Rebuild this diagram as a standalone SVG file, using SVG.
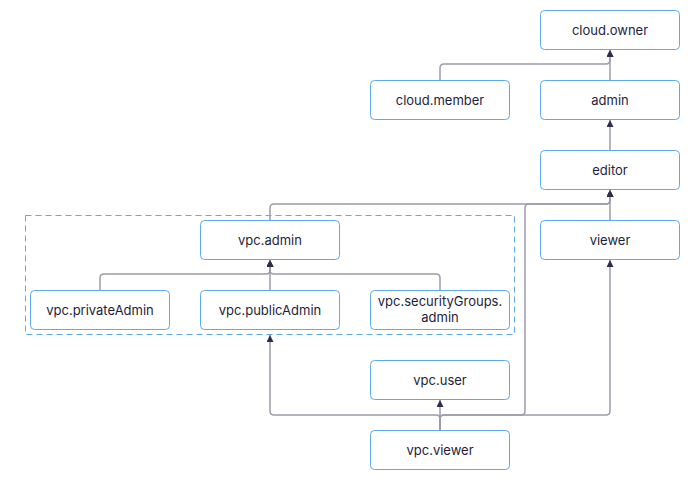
<svg xmlns="http://www.w3.org/2000/svg" width="700" height="482" viewBox="0 0 700 482">
<style>
.node rect{fill:#ffffff;stroke:#5fa9ee;stroke-width:1;}
.node text{font-family:Inter,"Noto Sans","Liberation Sans",sans-serif;font-size:13px;fill:#1e1e3c;text-anchor:middle;}
.edge{fill:none;stroke:#9e9bab;stroke-width:1.5;marker-end:url(#arr);}
.group{fill:none;stroke:#5fa9ee;stroke-width:1;stroke-dasharray:6 4;}
</style>
<defs>
<marker id="arr" markerUnits="userSpaceOnUse" markerWidth="8" markerHeight="8" refX="7" refY="3.5" orient="auto">
<path d="M0,0 L7,3.5 L0,7 z" fill="#2e2d4d"/>
</marker>
</defs>
<rect width="700" height="482" fill="#ffffff"/>
<rect id="vpc-group" class="group" x="25.5" y="215.5" width="489" height="119"/>
<g id="connectors">
<path class="edge" d="M440,80 V68 Q440,64 444,64 H606 Q610,64 610,60 V50"/>
<path class="edge" d="M610,80 V50"/>
<path class="edge" d="M610,150 V120"/>
<path class="edge" d="M610,220 V190"/>
<path class="edge" d="M270,220 V208 Q270,204 274,204 H606 Q610,204 610,200 V190"/>
<path class="edge" d="M100,290 V278 Q100,274 104,274 H266 Q270,274 270,270 V260"/>
<path class="edge" d="M270,290 V260"/>
<path class="edge" d="M440,290 V278 Q440,274 436,274 H274 Q270,274 270,270 V260"/>
<path class="edge" d="M440,430 V400"/>
<path class="edge" d="M440,430 V419 Q440,415 436,415 H274 Q270,415 270,411 V335"/>
<path class="edge" d="M440,430 V419 Q440,415 444,415 H521 Q525,415 525,411 V208 Q525,204 529,204 H606 Q610,204 610,200 V190"/>
<path class="edge" d="M440,430 V419 Q440,415 444,415 H606 Q610,415 610,411 V260"/>
</g>
<g id="cloud-owner" class="node"><rect x="540.5" y="10.5" width="139" height="39" rx="4"/><text x="610" y="34.5">cloud.owner</text></g>
<g id="cloud-member" class="node"><rect x="370.5" y="80.5" width="139" height="39" rx="4"/><text x="440" y="104.5">cloud.member</text></g>
<g id="admin" class="node"><rect x="540.5" y="80.5" width="139" height="39" rx="4"/><text x="610" y="104.5">admin</text></g>
<g id="editor" class="node"><rect x="540.5" y="150.5" width="139" height="39" rx="4"/><text x="610" y="174.5">editor</text></g>
<g id="viewer" class="node"><rect x="540.5" y="220.5" width="139" height="39" rx="4"/><text x="610" y="244.5">viewer</text></g>
<g id="vpc-admin" class="node"><rect x="200.5" y="220.5" width="139" height="39" rx="4"/><text x="270" y="244.5">vpc.admin</text></g>
<g id="vpc-privateAdmin" class="node"><rect x="30.5" y="290.5" width="139" height="39" rx="4"/><text x="100" y="314.5">vpc.privateAdmin</text></g>
<g id="vpc-publicAdmin" class="node"><rect x="200.5" y="290.5" width="139" height="39" rx="4"/><text x="270" y="314.5">vpc.publicAdmin</text></g>
<g id="vpc-securityGroups-admin" class="node"><rect x="370.5" y="290.5" width="139" height="39" rx="4"/><text x="440" y="306">vpc.securityGroups.</text><text x="440" y="322">admin</text></g>
<g id="vpc-user" class="node"><rect x="370.5" y="360.5" width="139" height="39" rx="4"/><text x="440" y="384.5">vpc.user</text></g>
<g id="vpc-viewer" class="node"><rect x="370.5" y="430.5" width="139" height="39" rx="4"/><text x="440" y="454.5">vpc.viewer</text></g>
</svg>
